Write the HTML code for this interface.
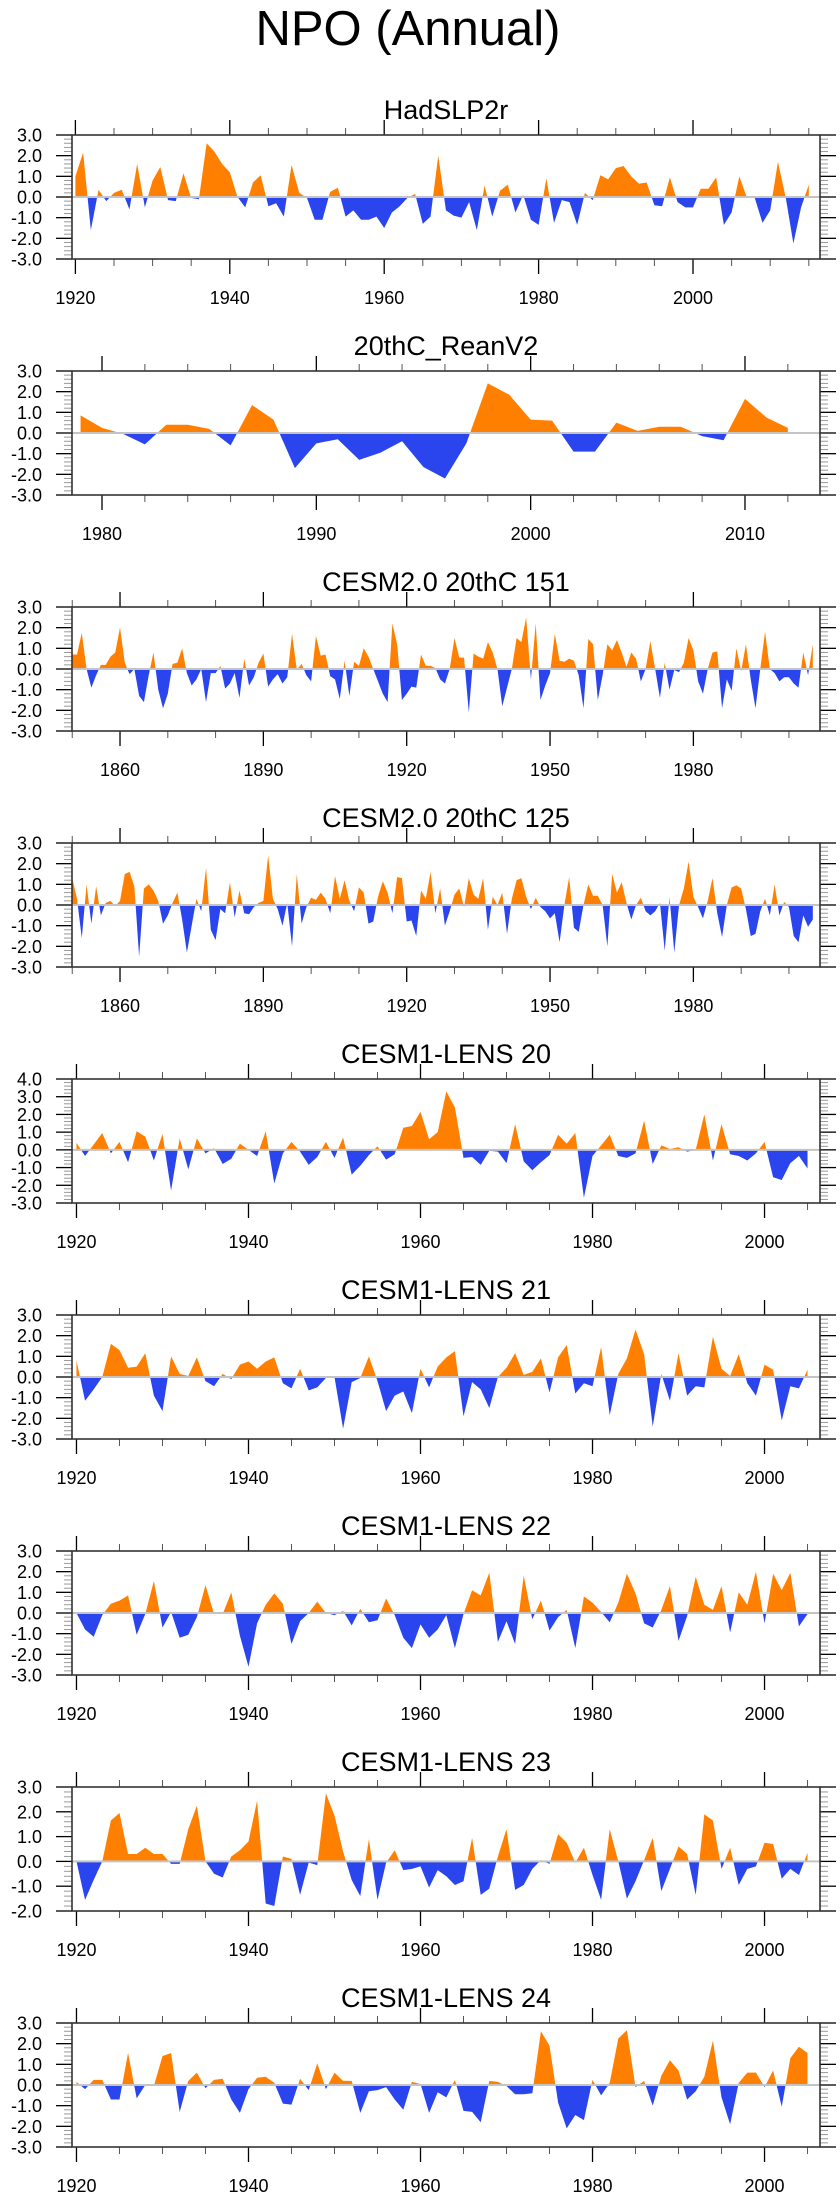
<!DOCTYPE html>
<html><head><meta charset="utf-8"><style>
html,body{margin:0;padding:0;background:#fff;}
svg{display:block;font-family:"Liberation Sans",Arial,sans-serif;}
</style></head><body>
<svg id="chart" width="840" height="2200" viewBox="0 0 840 2200">
<text x="408" y="45" font-size="49" text-anchor="middle">NPO (Annual)</text>
</svg>
<script>
const titles = ["HadSLP2r","20thC_ReanV2","CESM2.0 20thC 151","CESM2.0 20thC 125","CESM1-LENS 20","CESM1-LENS 21","CESM1-LENS 22","CESM1-LENS 23","CESM1-LENS 24"];
const startYears = [1920,1979,1850,1850,1920,1920,1920,1920,1920];
const yMins = [-3,-3,-3,-3,-3,-3,-3,-2,-3];
const yMaxs = [3,3,3,3,4,3,3,3,3];
const xMins = [1919.56,1978.6,1849.95,1849.95,1919.48,1919.48,1919.48,1919.48,1919.48];
const xMaxs = [2016.45,2013.5,2006.5,2006.5,2006.45,2006.45,2006.45,2006.45,2006.45];
const majorTickYears = [[1920,1940,1960,1980,2000],[1980,1990,2000,2010],[1860,1890,1920,1950,1980],[1860,1890,1920,1950,1980],[1920,1940,1960,1980,2000],[1920,1940,1960,1980,2000],[1920,1940,1960,1980,2000],[1920,1940,1960,1980,2000],[1920,1940,1960,1980,2000]];
const minorTickStep = [5,2,10,10,5,5,5,5,5];
const minorTickStart = [1920,1980,1850,1850,1920,1920,1920,1920,1920];
const minorTickEnd = [2015,2012,2000,2000,2005,2005,2005,2005,2005];

const hadslp = [1.0,2.15,-1.6,0.35,-0.2,0.2,0.35,-0.6,1.6,-0.5,0.8,1.45,-0.15,-0.2,1.15,-0.05,-0.1,2.6,2.2,1.6,1.2,0.0,-0.5,0.7,1.05,-0.45,-0.3,-0.95,1.55,0.2,-0.05,-1.1,-1.1,0.25,0.45,-0.95,-0.65,-1.1,-1.1,-0.95,-1.5,-0.75,-0.45,-0.05,0.15,-1.3,-0.95,2.0,-0.65,-0.9,-1.0,-0.25,-1.6,0.55,-0.95,0.3,0.6,-0.75,0.1,-1.1,-1.35,0.9,-1.25,-0.15,-0.25,-1.35,0.2,-0.15,1.05,0.85,1.4,1.5,1.0,0.65,0.7,-0.4,-0.45,0.95,-0.25,-0.5,-0.5,0.4,0.4,0.95,-1.35,-0.75,1.0,-0.05,-0.05,-1.25,-0.65,1.7,0.0,-2.25,-0.5,0.6];
const rean = [0.85,0.25,-0.05,-0.55,0.4,0.4,0.2,-0.6,1.35,0.65,-1.7,-0.5,-0.3,-1.3,-0.95,-0.4,-1.65,-2.2,-0.5,2.4,1.85,0.65,0.6,-0.9,-0.9,0.5,0.1,0.3,0.3,-0.15,-0.35,1.65,0.75,0.25];
const cesm151 = [0.7,0.7,1.75,0.0,-0.9,-0.3,0.2,0.2,0.6,0.8,2.0,0.3,-0.25,0.0,-1.3,-1.6,-0.3,0.8,-1.0,-1.9,-1.2,0.25,0.3,1.0,-0.2,-0.8,-0.5,0.0,-1.6,-0.2,-0.2,0.15,-0.95,-0.7,-0.2,-1.4,0.5,-0.8,-0.4,0.3,0.75,-0.85,-0.5,-0.25,-0.7,-0.4,1.7,-0.05,0.25,-0.3,-0.6,1.6,0.65,0.7,-0.35,-0.5,-1.45,0.4,-1.3,0.35,0.15,1.0,0.6,0.0,-0.6,-1.2,-1.6,2.2,1.2,-1.5,-1.2,-0.85,-0.9,0.7,0.15,0.15,0.05,-0.5,-0.7,0.0,1.5,0.55,0.55,-2.1,0.75,0.6,0.5,1.3,0.8,0.0,-1.8,-0.9,0.0,1.5,1.3,2.5,-0.5,2.2,-1.5,-0.8,-0.2,1.7,0.4,0.35,0.5,0.4,-0.3,-1.9,1.45,1.2,-1.5,-0.3,1.2,0.9,1.4,0.8,0.1,0.8,0.5,-0.6,0.0,1.35,0.0,-1.4,0.3,-1.0,-0.05,-0.15,0.3,1.5,0.9,-0.6,-1.2,0.0,0.8,0.85,-1.9,-0.5,-1.05,1.0,-0.1,1.2,-0.5,-1.9,0.0,1.8,0.0,-0.2,-0.6,-0.4,-0.4,-0.7,-0.9,0.8,-0.3,1.2];
const cesm125 = [1.3,0.3,-1.6,1.0,-0.9,0.9,-0.5,0.1,0.2,-0.05,0.2,1.5,1.6,0.9,-2.5,0.8,1.0,0.7,0.2,-0.9,-0.5,0.1,0.6,-0.7,-2.3,-1.0,0.3,-0.3,1.8,-1.2,-1.7,-0.2,-0.4,1.1,-0.6,0.7,-0.4,-0.45,-0.1,0.1,0.2,2.4,0.3,-0.2,-1.0,0.1,-2.0,1.5,-0.9,-0.1,0.35,0.25,0.6,0.3,-0.4,1.4,0.3,1.2,0.2,-0.3,0.85,0.6,-0.9,-0.8,0.4,1.15,0.6,-0.4,1.35,1.3,-0.8,-0.75,-1.5,0.7,0.3,1.6,-0.4,0.8,-1.0,-0.3,0.5,0.8,-0.1,1.3,0.5,0.3,1.3,-1.2,0.4,0.0,0.6,-1.4,0.3,1.2,1.3,0.4,-0.2,0.35,-0.1,-0.3,-0.65,-0.4,-1.8,0.0,1.35,-1.1,-1.3,0.0,1.0,0.45,0.45,0.0,-2.0,1.5,0.6,1.1,0.1,-0.7,0.0,0.35,-0.3,-0.5,-0.3,0.1,-2.2,0.4,-2.3,0.0,0.8,2.1,0.4,-0.1,-0.65,0.2,1.3,-0.4,-1.55,0.0,0.85,0.95,0.8,-0.2,-1.5,-1.4,-0.3,0.3,-0.5,1.0,-0.5,0.15,-0.1,-1.5,-1.8,-0.5,-1.05,-0.7];
const lens20 = [0.4,-0.35,0.3,0.95,-0.2,0.45,-0.7,1.05,0.75,-0.6,0.9,-2.3,0.65,-1.1,0.65,-0.2,0.1,-0.8,-0.5,0.35,0.0,-0.35,1.05,-1.9,-0.2,0.45,-0.1,-0.85,-0.4,0.45,-0.45,0.7,-1.4,-0.9,-0.3,0.2,-0.55,-0.25,1.25,1.35,2.15,0.6,1.0,3.3,2.4,-0.45,-0.4,-0.85,-0.05,-0.1,-0.75,1.45,-0.65,-1.15,-0.7,-0.3,0.85,0.35,0.95,-2.7,-0.35,0.25,0.85,-0.35,-0.45,-0.2,1.65,-0.8,0.25,0.05,0.15,-0.1,0.0,2.0,-0.6,1.45,-0.25,-0.35,-0.6,-0.2,0.45,-1.55,-1.7,-0.75,-0.35,-1.05];
const lens21 = [0.8,-1.15,-0.6,0.0,1.6,1.3,0.45,0.5,1.15,-0.9,-1.65,1.0,0.15,0.05,0.95,-0.2,-0.45,0.15,-0.1,0.6,0.75,0.4,0.75,0.95,-0.3,-0.55,0.4,-0.65,-0.5,-0.05,0.0,-2.5,-0.25,-0.05,1.0,-0.2,-1.65,-0.9,-0.7,-1.75,0.4,-0.5,0.5,0.95,1.25,-1.9,-0.25,-0.6,-1.5,0.0,0.45,1.15,0.1,0.25,0.9,-0.75,0.95,1.55,-0.8,-0.3,-0.45,1.45,-1.85,0.15,0.9,2.3,1.1,-2.4,0.15,-1.15,1.15,-0.9,-0.45,-0.5,1.95,0.4,0.05,1.1,-0.3,-0.9,0.6,0.35,-2.1,-0.45,-0.55,0.35];
const lens22 = [0.0,-0.8,-1.15,-0.1,0.45,0.6,0.85,-1.05,-0.05,1.55,-0.7,0.05,-1.2,-1.05,-0.2,1.35,-0.05,-0.05,1.0,-1.1,-2.6,-0.5,0.4,0.95,0.45,-1.5,-0.4,0.0,0.55,0.0,-0.1,0.1,-0.6,0.2,-0.45,-0.35,0.7,-0.1,-1.2,-1.7,-0.55,-1.2,-0.8,-0.1,-1.7,-0.05,1.1,0.85,1.95,-1.4,-0.4,-1.5,1.8,-0.3,0.6,-0.85,-0.2,0.15,-1.7,0.8,0.5,0.05,-0.45,0.5,1.9,0.95,-0.5,-0.7,0.15,1.3,-1.35,-0.15,1.75,0.4,0.15,1.3,-0.95,1.0,0.4,2.0,-0.5,1.9,1.1,1.95,-0.65,-0.05];
const lens23 = [0.0,-1.55,-0.75,0.0,1.65,1.95,0.3,0.3,0.55,0.3,0.3,-0.1,-0.1,1.3,2.25,0.0,-0.5,-0.65,0.2,0.45,0.8,2.45,-1.7,-1.8,0.2,0.1,-1.35,-0.05,-0.15,2.75,1.85,0.4,-0.75,-1.4,0.9,-1.55,-0.05,0.45,-0.35,-0.3,-0.2,-1.05,-0.35,-0.6,-0.95,-0.8,0.95,-1.35,-1.1,0.2,1.3,-1.15,-0.95,-0.3,0.05,-0.1,1.1,0.75,-0.05,0.55,-0.55,-1.55,1.3,0.0,-1.5,-0.8,0.05,0.95,-1.2,-0.3,0.6,0.3,-1.35,1.9,1.65,-0.3,0.55,-0.95,-0.3,-0.2,0.75,0.7,-0.7,-0.3,-0.55,0.35];
const lens24 = [0.15,-0.2,0.25,0.25,-0.7,-0.7,1.55,-0.65,0.0,-0.05,1.4,1.55,-1.3,0.2,0.6,-0.15,0.25,0.3,-0.7,-1.35,-0.2,0.35,0.4,0.1,-0.9,-0.95,0.3,-0.25,1.05,-0.2,0.6,0.2,0.2,-1.35,-0.3,-0.25,-0.1,-0.7,-1.2,0.15,0.05,-1.35,-0.35,-0.6,0.25,-1.25,-1.3,-1.8,0.2,0.15,-0.05,-0.45,-0.45,-0.4,2.6,1.9,-0.85,-2.1,-1.45,-1.7,0.25,-0.5,0.1,2.25,2.65,-0.1,0.2,-1.0,0.45,1.2,0.7,-0.7,-0.3,0.4,2.15,-0.6,-1.9,0.1,0.6,0.6,-0.1,0.7,-1.05,1.3,1.85,1.55];
const seriesList = [hadslp,rean,cesm151,cesm125,lens20,lens21,lens22,lens23,lens24];

const NS = "http://www.w3.org/2000/svg";
const svg = document.getElementById("chart");
const BOX_L = 72, BOX_R = 820, BOX_H = 124, TOP0 = 135, STEP = 236;
function mk(tag, attrs, parent){
  const e = document.createElementNS(NS, tag);
  for (const k in attrs) e.setAttribute(k, attrs[k]);
  (parent||svg).appendChild(e);
  return e;
}
seriesList.forEach(function(vals, p){
  const top = TOP0 + STEP*p, bot = top + BOX_H;
  const g = mk("g", {});
  
  
  const xs = function(yr){ return BOX_L + (yr - xMins[p]) / (xMaxs[p] - xMins[p]) * (BOX_R - BOX_L); };
  const ys = function(v){ return bot - (v - yMins[p]) / (yMaxs[p] - yMins[p]) * BOX_H; };
  const t = mk("text", {x: 446, y: top - 16, "font-size": 27, "text-anchor": "middle"}, g);
  t.textContent = titles[p];
  
  
  // fill polygon
  const y0 = ys(0);
  let d = "M" + xs(startYears[p]).toFixed(2) + "," + y0.toFixed(2);
  vals.forEach(function(v, i){ d += " L" + xs(startYears[p] + i).toFixed(2) + "," + ys(v).toFixed(2); });
  d += " L" + xs(startYears[p] + vals.length - 1).toFixed(2) + "," + y0.toFixed(2) + " Z";
  const cidA = "ca" + p, cidB = "cb" + p;
  const defs = mk("defs", {}, g);
  const cA = mk("clipPath", {id: cidA}, defs);
  mk("rect", {x: BOX_L, y: top, width: BOX_R - BOX_L, height: y0 - top}, cA);
  const cB = mk("clipPath", {id: cidB}, defs);
  mk("rect", {x: BOX_L, y: y0, width: BOX_R - BOX_L, height: bot - y0}, cB);
  const pa = mk("path", {d: d, fill: "#ff8000", "clip-path": "url(#" + cidA + ")"}, g);
  
  
  const pb = mk("path", {d: d, fill: "#2a45ee", "clip-path": "url(#" + cidB + ")"}, g);
  
  
  const zl = mk("line", {x1: BOX_L, x2: BOX_R, y1: y0, y2: y0, stroke: "#c4c4c4", "stroke-width": 2}, g);
  
  
  // y ticks
  for (let v = yMins[p]; v <= yMaxs[p] + 1e-6; v += 0.2) {
    const yy = ys(v);
    const major = Math.abs(v - Math.round(v)) < 1e-6;
    const len = major ? 16 : 8;
    mk("line", {x1: BOX_L - len, x2: BOX_L, y1: yy, y2: yy, stroke: major ? "#000" : "#999", "stroke-width": major ? 1.3 : 1}, g);
    mk("line", {x1: BOX_R, x2: BOX_R + len, y1: yy, y2: yy, stroke: major ? "#000" : "#999", "stroke-width": major ? 1.3 : 1}, g);
    if (major) {
      const lb = mk("text", {x: 42, y: yy + 6.5, "font-size": 18, "text-anchor": "end"}, g);
      lb.textContent = Math.round(v).toFixed(1);
      
      
    }
  }
  // x ticks
  for (let yr = minorTickStart[p]; yr <= minorTickEnd[p]; yr += minorTickStep[p]) {
    const xx = xs(yr);
    const major = majorTickYears[p].indexOf(yr) >= 0;
    const len = major ? 15 : 7;
    mk("line", {x1: xx, x2: xx, y1: top - len, y2: top, stroke: major ? "#000" : "#555", "stroke-width": major ? 1.3 : 1}, g);
    mk("line", {x1: xx, x2: xx, y1: bot, y2: bot + len, stroke: major ? "#000" : "#555", "stroke-width": major ? 1.3 : 1}, g);
  }
  majorTickYears[p].forEach(function(yr){
    const lb = mk("text", {x: xs(yr), y: bot + 45, "font-size": 18, "text-anchor": "middle"}, g);
    lb.textContent = yr;
    
    
  });
  const box = mk("rect", {x: BOX_L, y: top, width: BOX_R - BOX_L, height: BOX_H, fill: "none", stroke: "#333", "stroke-width": 1.6}, g);
  
  
});
</script>
</body></html>
